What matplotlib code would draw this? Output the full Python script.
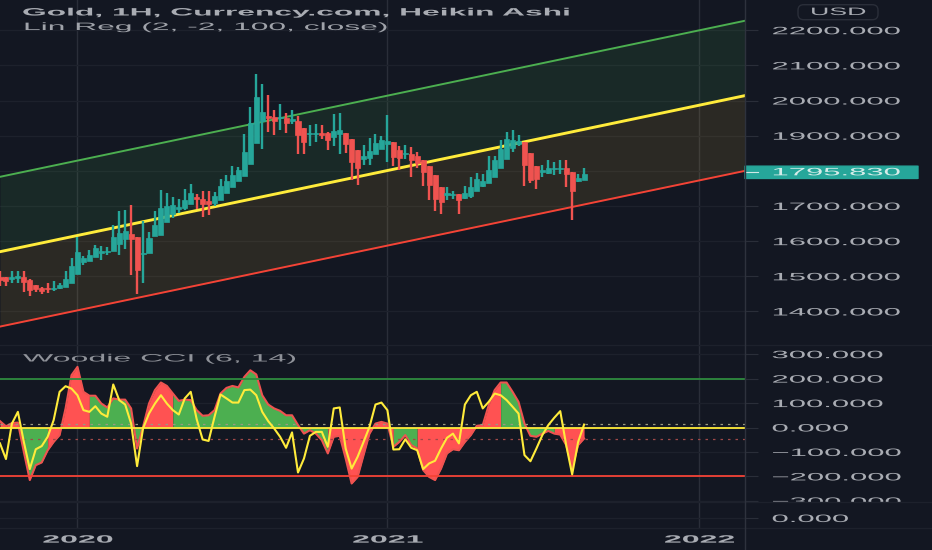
import matplotlib
matplotlib.use("Agg")
import numpy as np
import matplotlib.pyplot as plt
from matplotlib.lines import Line2D
from matplotlib.patches import FancyBboxPatch
from matplotlib.patheffects import AbstractPathEffect
from matplotlib.transforms import Affine2D, Bbox

plt.rcParams['font.family'] = ['Liberation Sans', 'DejaVu Sans']

BG = '#131722'
GRID = '#1d212c'
VGRID = '#2a2e39'
BORDER = '#2e323d'
TEXT = '#a9acb3'
GREEN = '#26a69a'
RED = '#ef5350'

opens = [1499,1497,1491,1495,1499,1490,1476,1468,1467,1465,
         1467,1470,1482,1506,1541,1544,1554,1567,1569,1571,
         1592,1607,1619,1611,1564,1565,1615,1617,1655,1676,
         1691,1693,1706,1725,1721,1713,1708,1718,1738,1753,
         1771,1786,1820,1879,1943,1957,1953,1949,1951,1943,
         1943,1923,
         1904,1904,1907,1907,1896,1904,1909,1891,1858,1833,
         1837,1847,1862,1876,1881,1860,1849,1849,1841,1831,
         1814,1788,1754,1732,1732,1735,1723,1729,1742,1757,
         1765,1782,1807,1833,1864,1875,1883,1850,1813,1797,
         1795,1804,1804,1807,1798,1771,1775]
closes = [1489,1486,1497,1502,1484,1461,1465,1457,1463,1468,
          1474,1493,1529,1570,1552,1562,1581,1573,1573,1613,
          1622,1630,1607,1518,1567,1609,1647,1693,1700,1702,
          1698,1718,1738,1721,1706,1706,1729,1758,1771,1787,
          1801,1854,1936,2010,1968,1951,1943,1953,1936,1947,
          1902,1881,
          1907,1907,1902,1887,1913,1915,1877,1826,1807,1841,
          1856,1879,1887,1884,1839,1837,1852,1830,1822,1797,
          1761,1719,1710,1736,1735,1716,1738,1755,1778,1771,
          1801,1831,1862,1891,1888,1884,1818,1774,1777,1801,
          1809,1807,1808,1792,1744,1780,1790]
highs = [1516,1497,1516,1514,1514,1492,1476,1470,1482,1486,
         1480,1514,1552,1611,1558,1575,1589,1587,1582,1647,
         1687,1690,1702,1611,1657,1625,1687,1746,1736,1725,
         1720,1749,1763,1734,1744,1742,1739,1777,1787,1815,
         1812,1904,1981,2075,2048,2015,1974,1991,1965,1972,
         1955,1923,
         1929,1932,1929,1910,1961,1965,1909,1891,1858,1873,
         1894,1906,1900,1958,1881,1872,1874,1869,1854,1831,
         1814,1788,1754,1754,1744,1735,1757,1782,1795,1790,
         1841,1843,1889,1911,1915,1902,1883,1850,1813,1816,
         1831,1824,1831,1830,1798,1792,1809]
lows = [1473,1473,1480,1480,1454,1444,1455,1450,1453,1457,
        1465,1470,1482,1506,1533,1544,1554,1546,1560,1571,
        1562,1577,1503,1450,1480,1565,1615,1617,1655,1666,
        1679,1689,1706,1691,1668,1675,1701,1718,1738,1753,
        1771,1786,1820,1879,1861,1910,1901,1915,1907,1932,
        1847,1847,
        1871,1881,1892,1858,1872,1849,1851,1773,1761,1818,
        1816,1847,1862,1826,1814,1801,1834,1782,1807,1758,
        1716,1685,1676,1717,1719,1676,1720,1723,1742,1754,
        1765,1782,1807,1833,1854,1870,1758,1765,1749,1782,
        1790,1788,1792,1755,1661,1767,1775]
last_price = 1795.83

# regression channel, start and end of the line
reg_x = [0, 125]
reg_mid = [1570, 2014]
reg_up = [1783, 2227]
reg_low = [1357, 1800]

# woodie cci, one value per candle
cci = [26,5,18,20,-100,-215,-154,-143,-93,-59,
       -31,78,214,248,146,130,130,98,82,119,
       114,114,78,-86,3,98,153,184,170,139,
       109,114,112,71,48,50,71,139,162,170,
       164,207,234,217,132,94,78,68,50,50,
       10,-25,-11,-25,-52,-106,-38,-34,-127,-229,
       -202,-113,-25,16,23,16,-79,-59,-31,-72,
       -86,-174,-202,-215,-168,-106,-89,-93,-59,-31,
       7,10,91,153,184,184,146,105,16,-34,
       -38,-25,-14,-25,-29,-72,-168,-72,-45]
tci = [-65,-129,16,64,-59,-170,-89,-76,-38,30,
       146,169,159,132,71,64,87,57,44,176,
       112,94,16,-158,-4,57,98,132,98,71,
       53,119,146,34,-49,-55,44,135,119,102,
       102,153,155,132,64,26,-4,-38,-83,-20,
       -184,-127,-34,-18,-18,-79,78,82,-86,-168,
       -120,-59,3,94,102,71,-90,-89,-48,-83,
       -93,-170,-147,-136,-86,-42,-25,-65,94,132,
       146,78,105,139,132,112,85,57,-113,-138,
       -86,-31,10,40,67,-72,-192,-59,12]
# candle index where the fill colour flips
cci_breaks = [0, 3, 8, 15, 24, 29, 55, 66, 70, 84, 93, 98]
cci_colors = ['r', 'g', 'r', 'g', 'r', 'g', 'r', 'g', 'r', 'g', 'r']

price_ticks = [1400, 1500, 1600, 1700, 1800, 1900, 2000, 2100, 2200]
price_labels = ['1400.000', '1500.000', '1600.000', '1700.000', '', '1900.000', '2000.000', '2100.000', '2200.000']
cci_ticks = [300, 200, 100, 0, -100, -200, -300]
cci_labels = ['300.000', '200.000', '100.000', '0.000', '\u2212100.000', '\u2212200.000', '\u2212300.000']
year_ticks = [13, 65, 117.3]
year_labels = ['2020', '2021', '2022']


class Stretch(AbstractPathEffect):
    # the source image is stretched sideways, so the glyphs get stretched too
    def __init__(self, sx, anchor=0.0):
        self.sx = sx
        self.anchor = anchor

    def draw_path(self, renderer, gc, tpath, affine, rgbFace=None):
        w = tpath.get_extents().x1 * self.anchor
        t = Affine2D().translate(-w, 0).scale(self.sx, 1).translate(w, 0)
        renderer.draw_path(gc, tpath, t + affine, rgbFace)


W, H = 932, 550
fig = plt.figure(figsize=(W / 100, H / 100), dpi=100, facecolor=BG)


def pane(y0, y1):
    ax = fig.add_axes([0, 1 - y1 / H, 745 / W, (y1 - y0) / H], facecolor=BG)
    ax.set_xlim(0, 125)
    for s in ax.spines.values():
        s.set_visible(False)
    ax.yaxis.tick_right()
    ax.set_xticks(year_ticks)
    ax.set_xticklabels([])
    ax.set_axisbelow(True)
    ax.grid(axis='x', color=VGRID, lw=1.0)
    ax.grid(axis='y', color=GRID, lw=1.0)
    ax.tick_params(axis='x', length=0)
    ax.tick_params(axis='y', length=9.1, width=0.8, color=VGRID, pad=10,
                   labelcolor=TEXT, labelsize=7.7)
    return ax


def style_labels(ax):
    for lab in ax.get_yticklabels():
        lab.set_path_effects([Stretch(2.9)])


# price pane
ax1 = pane(0, 344.5)
ax1.set_ylim(1306, 2286)
ax1.set_yticks(price_ticks)
ax1.set_yticklabels(price_labels)
style_labels(ax1)

ax1.fill_between(reg_x, reg_mid, reg_up, color='#4caf50', alpha=0.12, lw=0, zorder=1)
ax1.fill_between(reg_x, reg_low, reg_mid, color='#f5c33b', alpha=0.11, lw=0, zorder=1)
ax1.plot(reg_x, reg_up, color='#4caf50', lw=1.4, zorder=2)
ax1.plot(reg_x, reg_mid, color='#ffeb3b', lw=2.1, zorder=2)
ax1.plot(reg_x, reg_low, color='#f44336', lw=1.4, zorder=2)

x = np.arange(len(opens))
o = np.array(opens)
c = np.array(closes)
colors = [GREEN if b >= a else RED for a, b in zip(o, c)]
ax1.vlines(x, lows, highs, colors=colors, lw=1.7, zorder=3)
ax1.bar(x, np.abs(c - o), bottom=np.minimum(o, c), width=0.85, color=colors,
        edgecolor=colors, lw=0.5, zorder=4)

# last price tag
ax1.add_patch(FancyBboxPatch((1.0, last_price - 17.5), 173 / 745, 35,
                             boxstyle='round,pad=0,rounding_size=0.002',
                             transform=ax1.get_yaxis_transform(), color=GREEN,
                             clip_on=False, zorder=6, mutation_aspect=200))
ax1.plot([1.0, 1.017], [last_price, last_price], transform=ax1.get_yaxis_transform(),
         color='#cfe9e6', lw=0.8, clip_on=False, zorder=7)
ax1.text(1 + 26.5 / 745, last_price, '1795.830', transform=ax1.get_yaxis_transform(),
         color='#d5ece9', fontsize=7.7, va='center', ha='left', zorder=8,
         path_effects=[Stretch(2.9)])

# cci pane
ax2 = pane(344.5, 502)
ax2.set_ylim(-304.7, 339.5)
ax2.set_yticks(cci_ticks)
ax2.set_yticklabels(cci_labels)
style_labels(ax2)
clip = Bbox([[745, 48], [W, H - 344.5]])
for lab in ax2.get_yticklabels():
    lab.set_clip_on(True)
    lab.set_clip_box(clip)

xi = np.arange(len(cci))
fill_map = {'g': '#4caf50', 'r': '#ff5252'}
for i, name in enumerate(cci_colors):
    a, b = cci_breaks[i], cci_breaks[i + 1]
    ax2.fill_between(xi[a:b + 1], np.array(cci[a:b + 1]), 0, color=fill_map[name], lw=0, zorder=1)
ax2.plot(xi, cci, color='#ef5350', lw=1.5, zorder=2)
ax2.axhline(200, color='#2e8b3e', lw=1.3, zorder=3)
ax2.axhline(-200, color='#f44336', lw=1.3, zorder=3)
ax2.axhline(13, color='#9a9a80', lw=0.9, ls=(0, (2, 4)), zorder=3)
ax2.axhline(-45, color='#a04848', lw=0.9, ls=(0, (2, 4)), zorder=3)
ax2.axhline(0, color='#ffeb3b', lw=1.3, zorder=4)
ax2.plot(xi, tci, color='#ffeb3b', lw=1.5, zorder=5)

# empty pane below
ax3 = pane(502, 527.7)
ax3.set_ylim(-9.7, 16)
ax3.set_yticks([0])
ax3.set_yticklabels(['0.000'])
style_labels(ax3)
ax3.set_xticklabels(year_labels, fontsize=7.7, color=TEXT, fontweight='bold')
ax3.tick_params(axis='x', pad=5)
for lab in ax3.get_xticklabels():
    lab.set_path_effects([Stretch(3.0, anchor=0.5)])

# pane borders
for y in [344.5, 502, 527.7]:
    fig.add_artist(Line2D([0, 1], [1 - y / H, 1 - y / H], color=GRID, lw=1.0))
fig.add_artist(Line2D([744.5 / W, 744.5 / W], [0, 1], color=BORDER, lw=1.0))


def label(xp, yp, s, sx, size=7.7, color=TEXT, weight='normal'):
    fig.text(xp / W, 1 - yp / H, s, color=color, fontsize=size, va='center', ha='left',
             fontweight=weight, path_effects=[Stretch(sx)], zorder=10)


label(22, 12.5, 'Gold, 1H, Currency.com, Heikin Ashi', 2.97, weight='bold')
label(23, 27, 'Lin Reg (2, -2, 100, close)', 2.97, color='#9fa2a9')
label(23, 358.5, 'Woodie CCI (6, 14)', 3.0, color='#8f9299')

fig.add_artist(FancyBboxPatch((798 / W, 1 - 19.7 / H), 80 / W, 15 / H,
                              boxstyle='round,pad=0,rounding_size=0.006',
                              transform=fig.transFigure, facecolor=BG, edgecolor=VGRID,
                              lw=1.0, mutation_aspect=1.7))
label(810, 12, 'USD', 2.5, color=TEXT)

fig.savefig('out.png', dpi=100, facecolor=BG)
